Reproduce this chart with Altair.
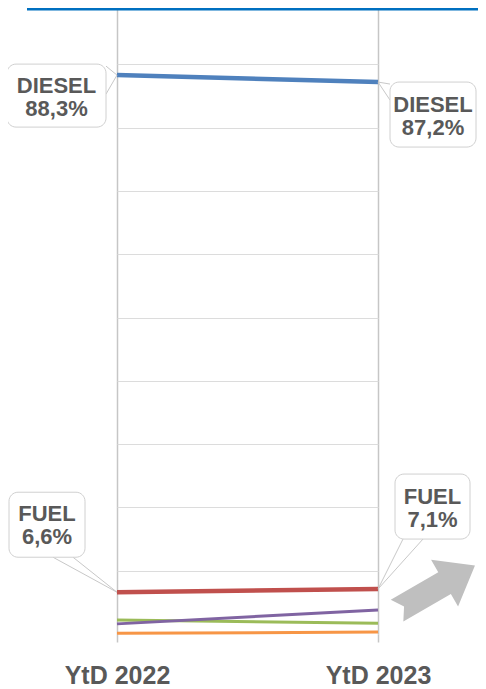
import altair as alt
import pandas as pd

# ---- data ----
years = ["YtD 2022", "YtD 2023"]
series_names = ["ALTRI C", "ALTRI B", "ALTRI A", "FUEL", "DIESEL"]  # drawing order (bottom first)
share_2022 = [0.1, 2.2, 1.6, 6.6, 88.3]
share_2023 = [0.3, 1.7, 3.8, 7.1, 87.2]
series_colors = ["#f79646", "#9bbb59", "#8064a2", "#c0504d", "#4f81bd"]
series_widths = [3, 3, 3, 4.5, 4.5]
grid_values = [10, 20, 30, 40, 50, 60, 70, 80, 90]

callout_names = ["DIESEL", "DIESEL", "FUEL", "FUEL"]
callout_years = ["YtD 2022", "YtD 2023", "YtD 2022", "YtD 2023"]
callout_values = [88.3, 87.2, 6.6, 7.1]

# callout geometry (pixel offsets from the data point): box (x0, x1, y0, y1), text centre, tail base points
callout_geom = [
    dict(box=(-110, -11, -11, 52), text=(-60.5, 10.5), tail=[(-11, -9), (-11, 19)]),
    dict(box=(12, 98, 0, 65), text=(55, 22.5), tail=[(12, 2), (12, 18)]),
    dict(box=(-108, -32, -100, -35), text=(-70, -78), tail=[(-64, -35), (-44, -35)]),
    dict(box=(17, 92, -115, -50), text=(54.5, -92), tail=[(25, -50), (45, -50)]),
]

rows = []
for s, a, b in zip(series_names, share_2022, share_2023):
    rows.append({"series": s, "year": years[0], "value": a})
    rows.append({"series": s, "year": years[1], "value": b})
df = pd.DataFrame(rows)

cdf = pd.DataFrame({
    "series": callout_names,
    "year": callout_years,
    "value": callout_values,
    "label": [f"{n}\n{str(v).replace('.', ',')}%" for n, v in zip(callout_names, callout_values)],
})

FONT = "Liberation Sans"
TXT = "#595959"

x_enc = alt.X(
    "year:N",
    scale=alt.Scale(type="point", domain=years, padding=0),
    axis=alt.Axis(
        title=None, domain=False, grid=True, gridColor="#c6c6c6", gridWidth=1.5,
        ticks=True, tickSize=8, tickColor="#c6c6c6", tickWidth=1.5,
        labelAngle=0, labelFont=FONT, labelFontSize=25, labelFontWeight="bold",
        labelColor=TXT, labelPadding=21,
    ),
)
y_enc = alt.Y(
    "value:Q",
    scale=alt.Scale(domain=[0, 98.9], nice=False, zero=True),
    axis=alt.Axis(
        title=None, values=grid_values, labels=False, ticks=False, domain=False,
        grid=True, gridColor="#dcdcdc", gridWidth=1,
    ),
)

layers = []
for i, s in enumerate(series_names):
    layers.append(
        alt.Chart(df[df["series"] == s]).mark_line(
            color=series_colors[i], strokeWidth=series_widths[i], strokeCap="butt"
        ).encode(x=x_enc, y=y_enc)
    )

# top blue decoration line
layers.append(
    alt.Chart(cdf.iloc[[0]]).mark_rule(color="#0070c0", strokeWidth=3).encode(
        x=alt.value(-90), x2=alt.value(361), y=alt.value(1)
    )
)

for i, g in enumerate(callout_geom):
    one = cdf.iloc[[i]]
    for (tx, ty) in g["tail"]:
        layers.append(
            alt.Chart(one).mark_rule(
                color="#c8c8c8", strokeWidth=1, x2Offset=tx, y2Offset=ty
            ).encode(x=x_enc, y=y_enc, x2="year:N", y2="value:Q")
        )
    x0, x1, y0, y1 = g["box"]
    layers.append(
        alt.Chart(one).mark_rect(
            xOffset=x0, x2Offset=x1, yOffset=y0, y2Offset=y1,
            fill="white", stroke="#d0d0d0", strokeWidth=1, cornerRadius=9,
        ).encode(x=x_enc, y=y_enc, x2="year:N", y2="value:Q")
    )
    tx, ty = g["text"]
    layers.append(
        alt.Chart(one).mark_text(
            dx=tx, dy=ty, align="center", baseline="middle", lineBreak="\n",
            lineHeight=23, font=FONT, fontSize=22, fontWeight="bold", color=TXT,
        ).encode(x=x_enc, y=y_enc, text="label:N")
    )

# grey trend arrow next to FUEL 2023
arrow_path = "M -1 -0.28 L 0.22 -0.28 L 0.22 -0.6 L 1 0 L 0.22 0.6 L 0.22 0.28 L -1 0.28 L -0.82 0 Z"
layers.append(
    alt.Chart(cdf.iloc[[3]]).mark_point(
        shape=arrow_path, size=8100, angle=330, filled=True, color="#bfbfbf",
        opacity=1, strokeWidth=0, xOffset=58, yOffset=-1,
    ).encode(x=x_enc, y=y_enc)
)

chart = alt.layer(*layers).properties(
    width=261, height=626,
    autosize=alt.AutoSizeParams(type="none"),
    padding={"left": 109, "top": 0, "right": 100, "bottom": 55},
    background="white",
).configure_view(strokeWidth=0)

chart.save("out.html", embed_options={"renderer": "svg", "actions": False})
